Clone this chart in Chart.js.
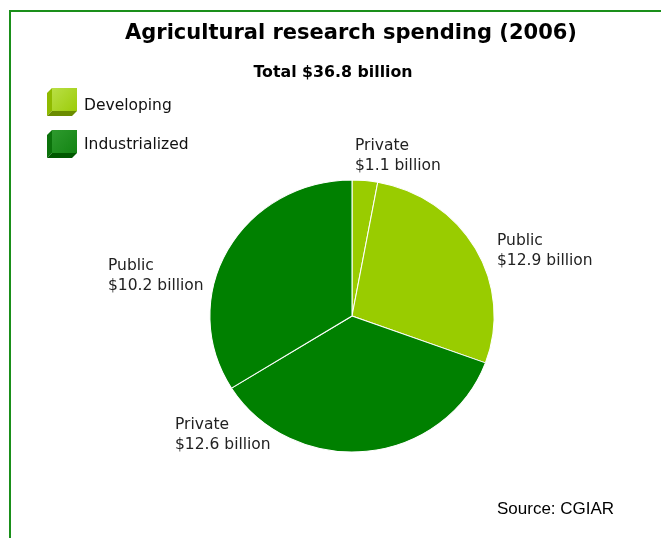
<!DOCTYPE html>
<html>
<head>
<meta charset="utf-8">
<script src="https://cdn.jsdelivr.net/npm/chart.js@4/dist/chart.umd.min.js"></script>
<style>
  html, body { margin: 0; padding: 0; background: #fff; }
  #wrap { position: relative; width: 661px; height: 538px; }
</style>
</head>
<body>
<div id="wrap"><canvas id="pieChart" width="661" height="538"></canvas></div>
<script>
// slices, clockwise from 12 o'clock
const sliceNames = ["Private", "Public", "Private", "Public"];
const sliceAmounts = ["$1.1 billion", "$12.9 billion", "$12.6 billion", "$10.2 billion"];
const sliceGroups = ["Developing", "Developing", "Industrialized", "Industrialized"];
// share of the circle as drawn in the picture (percent)
const sliceShares = [2.9, 27.7, 35.5, 33.9];
const groupNames = ["Developing", "Industrialized"];

const groupColors = { Developing: "#99cc00", Industrialized: "#008000" };
// label text placement, relative to the pie centre
const labelOffsets = [[3, -166], [145, -71], [-177, 113], [-244, -46]];
// the original pie is slightly wider than tall
const stretchX = 1.045;

function drawCube(ctx, x, y, group) {
    const dev = group === "Developing";
    const g = ctx.createLinearGradient(x + 5, y, x + 30, y + 23);
    g.addColorStop(0, dev ? "#b9df45" : "#2e9a2e");
    g.addColorStop(1, dev ? "#9ccc0a" : "#138413");
    ctx.fillStyle = dev ? "#8fba00" : "#0b720b";
    ctx.beginPath();
    ctx.moveTo(x, y + 5); ctx.lineTo(x + 5, y); ctx.lineTo(x + 5, y + 23); ctx.lineTo(x, y + 28);
    ctx.closePath(); ctx.fill();
    ctx.fillStyle = dev ? "#6b8c00" : "#005800";
    ctx.beginPath();
    ctx.moveTo(x, y + 28); ctx.lineTo(x + 5, y + 23); ctx.lineTo(x + 30, y + 23); ctx.lineTo(x + 25, y + 28);
    ctx.closePath(); ctx.fill();
    ctx.fillStyle = g;
    ctx.fillRect(x + 5, y, 25, 23);
}

const decorations = {
    id: "decorations",
    beforeDraw(chart) {
        const ctx = chart.ctx;
        ctx.save();
        ctx.strokeStyle = "#1a8f1a";
        ctx.lineWidth = 2;
        ctx.strokeRect(10, 11, 700, 600);
        ctx.restore();
    },
    beforeDatasetsDraw(chart) {
        const ctx = chart.ctx;
        const a = chart.chartArea;
        const cx = (a.left + a.right) / 2;
        ctx.save();
        ctx.translate(cx, 0);
        ctx.scale(stretchX, 1);
        ctx.translate(-cx, 0);
    },
    afterDatasetsDraw(chart) {
        chart.ctx.restore();
    },
    afterDraw(chart) {
        const ctx = chart.ctx;
        const arc = chart.getDatasetMeta(0).data[0];
        const cx = arc.x, cy = arc.y;
        ctx.save();
        ctx.fillStyle = "#000";
        ctx.textAlign = "center";
        ctx.textBaseline = "alphabetic";
        ctx.font = "bold 21px 'DejaVu Sans'";
        ctx.fillText("Agricultural research spending (2006)", 351, 39);
        ctx.font = "bold 15.8px 'DejaVu Sans'";
        ctx.fillText("Total $36.8 billion", 333, 77);

        // legend
        ctx.textAlign = "left";
        ctx.font = "15.5px 'DejaVu Sans'";
        groupNames.forEach((name, i) => {
            drawCube(ctx, 47, 88 + i * 42, name);
            ctx.fillStyle = "#111";
            ctx.fillText(name, 84, 110 + i * 39);
        });

        // slice labels
        ctx.fillStyle = "#222";
        sliceNames.forEach((name, i) => {
            const x = cx + labelOffsets[i][0], y = cy + labelOffsets[i][1];
            ctx.fillText(name, x, y);
            ctx.fillText(sliceAmounts[i], x, y + 20);
        });

        ctx.font = "17px 'Liberation Sans'";
        ctx.fillStyle = "#000";
        ctx.fillText("Source: CGIAR", 497, 514);
        ctx.restore();
    }
};

const ctx = document.getElementById("pieChart").getContext("2d");
new Chart(ctx, {
    type: "pie",
    data: {
        labels: sliceNames,
        datasets: [{
            data: sliceShares,
            backgroundColor: sliceGroups.map(g => groupColors[g]),
            borderColor: "#ffffff",
            borderWidth: 1
        }]
    },
    options: {
        responsive: false,
        animation: false,
        radius: 136,
        layout: { padding: { left: 216, right: 173, top: 180, bottom: 86 } },
        plugins: {
            legend: { display: false },
            tooltip: { enabled: false }
        }
    },
    plugins: [decorations]
});
</script>
</body>
</html>
